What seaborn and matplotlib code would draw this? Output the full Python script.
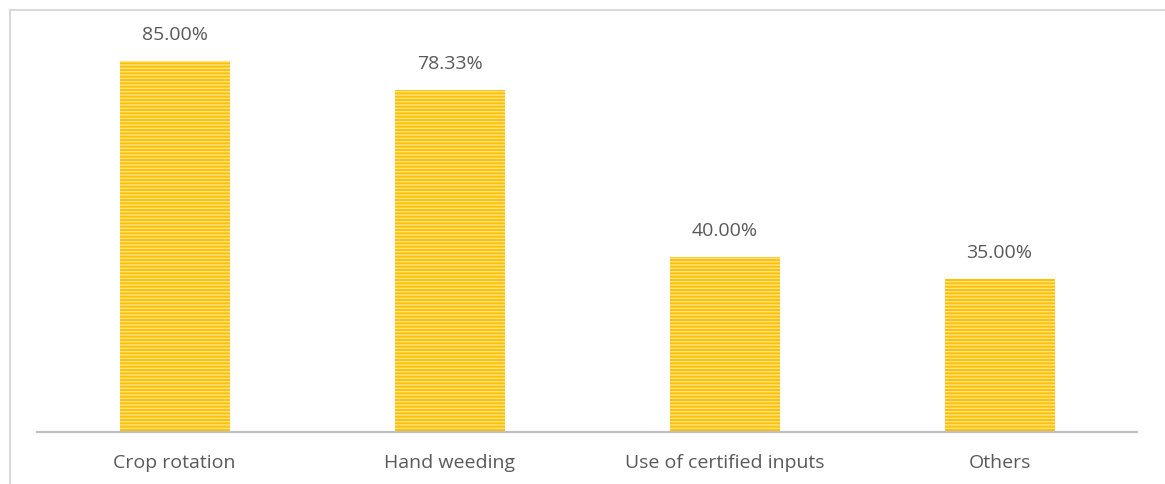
import matplotlib
matplotlib.use("Agg")
import matplotlib.pyplot as plt
from matplotlib.lines import Line2D
import seaborn as sns
import pandas as pd

categories = ["Crop rotation", "Hand weeding", "Use of certified inputs", "Others"]
shares = [85.00, 78.33, 40.00, 35.00]

sns.set_theme(style="white")
plt.rcParams["font.family"] = ["Open Sans", "DejaVu Sans"]
plt.rcParams["hatch.linewidth"] = 1.0

df = pd.DataFrame({"practice": categories, "share": shares})

fig = plt.figure(figsize=(11.65, 4.85), dpi=100)
fig.patch.set_edgecolor("white")
fig.patch.set_linewidth(0)
ax = fig.add_axes([0.0318, 0.1072, 0.9442, 0.8103])

sns.barplot(data=df, x="practice", y="share", color="#FFC000", width=0.4,
            saturation=1, ax=ax)

for patch in ax.patches:
    patch.set_hatch("-----")
    patch.set_edgecolor("#FFE38A")
    patch.set_linewidth(0)

for patch, val in zip(ax.patches, shares):
    ax.annotate(f"{val:.2f}%", (patch.get_x() + patch.get_width() / 2, val),
                xytext=(0, 13), textcoords="offset points",
                ha="center", va="bottom", fontsize=14, color="#595959")

ax.set_ylim(0, 90)
ax.set_xlim(-0.5, 3.5)
ax.set_xlabel("")
ax.set_ylabel("")
ax.set_yticks([])
ax.tick_params(axis="x", length=0, pad=15, labelsize=14, labelcolor="#595959")
for side in ["top", "left", "right"]:
    ax.spines[side].set_visible(False)
ax.spines["bottom"].set_color("#BFBFBF")
ax.spines["bottom"].set_linewidth(1.6)

# light frame on the left and top edges of the figure
fig.add_artist(Line2D([9.5 / 1165, 9.5 / 1165], [0, 1 - 10.5 / 485],
                      transform=fig.transFigure, color="#D9D9D9", lw=1.5))
fig.add_artist(Line2D([9.5 / 1165, 1], [1 - 10.5 / 485, 1 - 10.5 / 485],
                      transform=fig.transFigure, color="#D9D9D9", lw=1.5))

fig.savefig("out.png", dpi=100)
